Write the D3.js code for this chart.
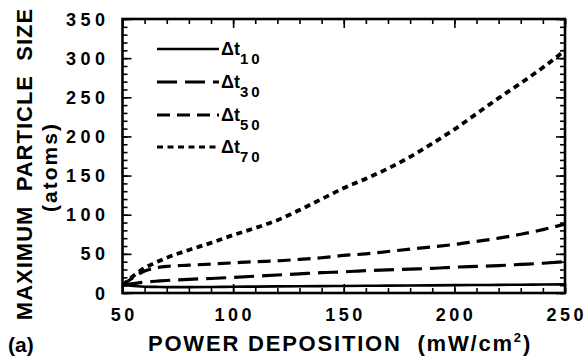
<!DOCTYPE html>
<html>
<head>
<meta charset="utf-8">
<script src="https://cdn.jsdelivr.net/npm/d3@7"></script>
<style>
  html, body { margin: 0; padding: 0; background: #fff; }
  svg { display: block; }
  text { font-family: "Liberation Sans", Arial, Helvetica, sans-serif; fill: #000; white-space: pre; }
</style>
</head>
<body>
<svg id="chart" width="587" height="360"></svg>
<script>
// Power deposition (mW/cm^2) sample points
const power = [50, 55, 60, 65, 70, 80, 90, 100, 110, 120, 130, 140, 150, 160, 170, 180, 190, 200, 210, 220, 230, 240, 250];

// Maximum particle size (atoms) for each time interval
const dt10 = [10, 9, 8, 7.8, 7.5, 7.5, 7.6, 8, 8.2, 8.4, 8.6, 8.8, 9, 9.2, 9.4, 9.6, 9.8, 10, 10.2, 10.4, 10.6, 10.8, 11];
const dt30 = [10, 12, 14, 15, 16, 17.5, 18.5, 20, 21.5, 23, 24.5, 26, 27, 28.5, 29.5, 30.5, 31.5, 33, 34, 35, 36.5, 38, 40];
const dt50 = [10, 20, 28, 32, 34, 35.5, 37, 38.5, 40, 41, 43, 45, 48, 50, 53, 56, 59, 62, 66, 70, 75, 81, 88];
const dt70 = [10, 22, 32, 39, 45, 55, 64, 74, 83, 93, 106, 120, 134, 146, 159, 174, 191, 209, 229, 249, 268, 288, 310];

const seriesNames = ["10", "30", "50", "70"];
const seriesValues = [dt10, dt30, dt50, dt70];
const dashes = [null, "20 8", "13 7", "6 4.5"];
const widths = [2.6, 3.2, 3.2, 3.8];

const xTicks = [50, 100, 150, 200, 250];
const yTicks = [0, 50, 100, 150, 200, 250, 300, 350];

const svg = d3.select("#chart");
const m = { left: 122.5, right: 565, top: 19, bottom: 293 };

const x = d3.scaleLinear().domain([50, 250]).range([m.left, m.right]);
const y = d3.scaleLinear().domain([0, 350]).range([m.bottom, m.top]);

// Curves
const line = d3.line()
  .x(d => x(d[0]))
  .y(d => y(d[1]))
  .curve(d3.curveMonotoneX);

const plot = svg.append("g");
plot.append("clipPath").attr("id", "clip")
  .append("rect")
  .attr("x", m.left).attr("y", m.top)
  .attr("width", m.right - m.left).attr("height", m.bottom - m.top);

seriesValues.forEach((vals, i) => {
  plot.append("path")
    .attr("clip-path", "url(#clip)")
    .attr("d", line(power.map((p, j) => [p, vals[j]])))
    .attr("fill", "none")
    .attr("stroke", "#000")
    .attr("stroke-width", widths[i])
    .attr("stroke-dasharray", dashes[i]);
});

// Axes with inward ticks on all four sides
function styleAxis(g) {
  g.select(".domain").remove();
  g.selectAll("line").attr("stroke", "#000").attr("stroke-width", 1.6);
  g.selectAll("text").remove();
}
const xMinor = d3.range(50, 251, 10);
const yMinor = d3.range(0, 351, 10);

svg.append("g").attr("transform", `translate(0,${m.bottom})`)
  .call(d3.axisTop(x).tickValues(xMinor).tickSize(5)).call(styleAxis);
svg.append("g").attr("transform", `translate(0,${m.bottom})`)
  .call(d3.axisTop(x).tickValues(xTicks).tickSize(9)).call(styleAxis);
svg.append("g").attr("transform", `translate(0,${m.top})`)
  .call(d3.axisBottom(x).tickValues(xMinor).tickSize(5)).call(styleAxis);
svg.append("g").attr("transform", `translate(0,${m.top})`)
  .call(d3.axisBottom(x).tickValues(xTicks).tickSize(9)).call(styleAxis);
svg.append("g").attr("transform", `translate(${m.left},0)`)
  .call(d3.axisRight(y).tickValues(yMinor).tickSize(5)).call(styleAxis);
svg.append("g").attr("transform", `translate(${m.left},0)`)
  .call(d3.axisRight(y).tickValues(yTicks).tickSize(9)).call(styleAxis);
svg.append("g").attr("transform", `translate(${m.right},0)`)
  .call(d3.axisLeft(y).tickValues(yMinor).tickSize(5)).call(styleAxis);
svg.append("g").attr("transform", `translate(${m.right},0)`)
  .call(d3.axisLeft(y).tickValues(yTicks).tickSize(9)).call(styleAxis);

// Frame
svg.append("rect")
  .attr("x", m.left).attr("y", m.top)
  .attr("width", m.right - m.left).attr("height", m.bottom - m.top)
  .attr("fill", "none").attr("stroke", "#000").attr("stroke-width", 2.6);

// Tick labels
const tickLS = 3.5;
svg.append("g").selectAll("text").data(xTicks).join("text")
  .attr("x", d => x(d) + tickLS / 2)
  .attr("y", 321)
  .attr("text-anchor", "middle")
  .attr("font-size", 18).attr("font-weight", "bold")
  .attr("letter-spacing", tickLS)
  .text(d => d);

svg.append("g").selectAll("text").data(yTicks).join("text")
  .attr("x", 105 + tickLS)
  .attr("y", d => y(d) + 6.5)
  .attr("text-anchor", "end")
  .attr("font-size", 18).attr("font-weight", "bold")
  .attr("letter-spacing", 4.5)
  .attr("dx", 1)
  .text(d => d);

// Axis titles
const xt = svg.append("text")
  .attr("x", 340).attr("y", 351)
  .attr("text-anchor", "middle")
  .attr("font-size", 22).attr("font-weight", "bold")
  .attr("letter-spacing", 1.8);
xt.append("tspan").text("POWER DEPOSITION  (mW/cm");
xt.append("tspan").attr("font-size", 13).attr("dy", -9).text("2");
xt.append("tspan").attr("dy", 9).text(")");

svg.append("text")
  .attr("transform", "translate(32,164) rotate(-90)")
  .attr("text-anchor", "middle")
  .attr("font-size", 22).attr("font-weight", "bold")
  .attr("letter-spacing", 1)
  .text("MAXIMUM  PARTICLE  SIZE");

svg.append("text")
  .attr("transform", "translate(57,167) rotate(-90)")
  .attr("text-anchor", "middle")
  .attr("font-size", 21).attr("font-weight", "bold")
  .attr("letter-spacing", 2)
  .text("(atoms)");

svg.append("text")
  .attr("x", 8).attr("y", 352)
  .attr("font-size", 21).attr("font-weight", "bold")
  .text("(a)");

// Legend
const legY = [49, 82, 115, 147];
const leg = svg.append("g");
seriesNames.forEach((name, i) => {
  leg.append("line")
    .attr("x1", 157).attr("x2", 219)
    .attr("y1", legY[i]).attr("y2", legY[i])
    .attr("stroke", "#000")
    .attr("stroke-width", i === 0 ? 2.6 : 3.2)
    .attr("stroke-dasharray", dashes[i]);
  const t = leg.append("text")
    .attr("x", 221).attr("y", legY[i] + 6)
    .attr("font-size", 18).attr("font-weight", "600");
  t.append("tspan").text("\u0394t");
  t.append("tspan").attr("font-size", 15).attr("font-weight", "bold")
    .attr("dy", 9).attr("letter-spacing", 3).text(name);
});
</script>
</body>
</html>
